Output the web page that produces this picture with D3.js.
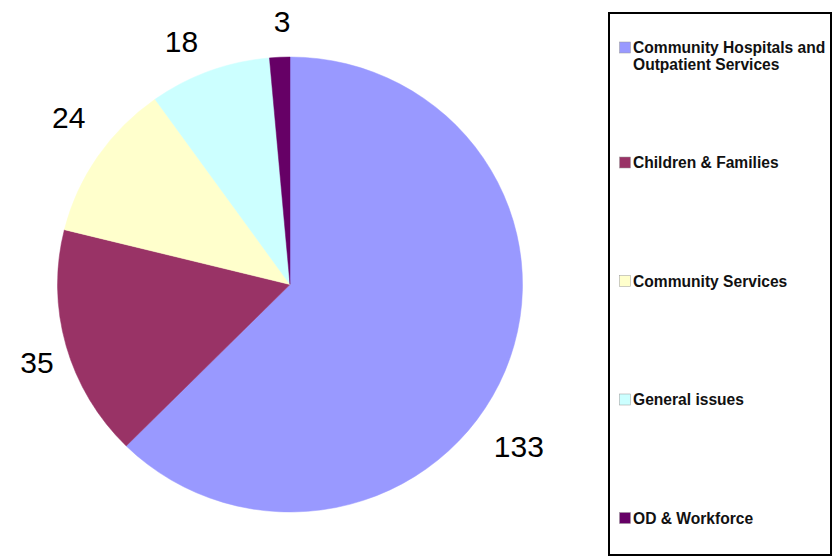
<!DOCTYPE html>
<html>
<head>
<meta charset="utf-8">
<script src="https://cdn.jsdelivr.net/npm/d3@7"></script>
<style>
html,body{margin:0;padding:0;background:#fff;}
svg{display:block;}
</style>
</head>
<body>
<svg id="chart" width="835" height="558"></svg>
<script>
// ---- data ----
const categories = ["Community Hospitals and Outpatient Services", "Children & Families", "Community Services", "General issues", "OD & Workforce"];
const legendLines = [["Community Hospitals and", "Outpatient Services"], ["Children & Families"], ["Community Services"], ["General issues"], ["OD & Workforce"]];
const values = [133, 35, 24, 18, 3];
const colors = ["#9999ff", "#993366", "#ffffcc", "#ccffff", "#660066"];

// ---- layout ----
const cx = 290, cy = 284.5, rx = 232.5, ry = 227.5;
// label placement (angle offset in degrees from slice mid-angle, radius)
const labelPlace = [[12.8, 280], [-1.4, 264.6], [2.9, 277.6], [-3.7, 266.8], [0.8, 263]];

const svg = d3.select("#chart");
const pie = d3.pie().sort(null).value(d => d)(values);
const arc = d3.arc().innerRadius(0).outerRadius(rx);

const g = svg.append("g").attr("transform", `translate(${cx},${cy}) scale(1,${ry / rx})`);
g.selectAll("path").data(pie).join("path")
  .attr("d", arc)
  .attr("fill", (d, i) => colors[i])
  .attr("stroke", (d, i) => colors[i])
  .attr("stroke-width", 0.5);

svg.append("g").selectAll("text").data(pie).join("text")
  .attr("x", (d, i) => {
    const a = (d.startAngle + d.endAngle) / 2 + labelPlace[i][0] * Math.PI / 180;
    return cx + labelPlace[i][1] * Math.sin(a);
  })
  .attr("y", (d, i) => {
    const a = (d.startAngle + d.endAngle) / 2 + labelPlace[i][0] * Math.PI / 180;
    return cy - labelPlace[i][1] * Math.cos(a);
  })
  .attr("text-anchor", "middle")
  .attr("dy", "0.36em")
  .attr("font-family", "'Liberation Sans', Arial, sans-serif")
  .attr("font-size", 30)
  .attr("fill", "#000")
  .text(d => d.data);

// ---- legend ----
svg.append("rect")
  .attr("x", 609).attr("y", 13).attr("width", 222).attr("height", 542)
  .attr("fill", "#fff").attr("stroke", "#000").attr("stroke-width", 2);

const legendBase = i => i === 0 ? 53 : 168 + (i - 1) * 118.5;

const items = svg.append("g").selectAll("g").data(categories).join("g");
items.append("rect")
  .attr("x", 619.5).attr("y", (d, i) => legendBase(i) - 11)
  .attr("width", 11).attr("height", 11)
  .attr("fill", (d, i) => colors[i])
  .attr("stroke", "#999").attr("stroke-width", 0.5);
items.append("text")
  .attr("x", 633)
  .attr("y", (d, i) => legendBase(i))
  .attr("font-family", "'Liberation Sans', Arial, sans-serif")
  .attr("font-weight", "bold")
  .attr("font-size", 15.6)
  .attr("fill", "#111")
  .each(function (d, i) {
    d3.select(this).selectAll("tspan").data(legendLines[i]).join("tspan")
      .attr("x", 633)
      .attr("dy", (t, j) => j === 0 ? 0 : 16.5)
      .text(t => t);
  });
</script>
</body>
</html>
